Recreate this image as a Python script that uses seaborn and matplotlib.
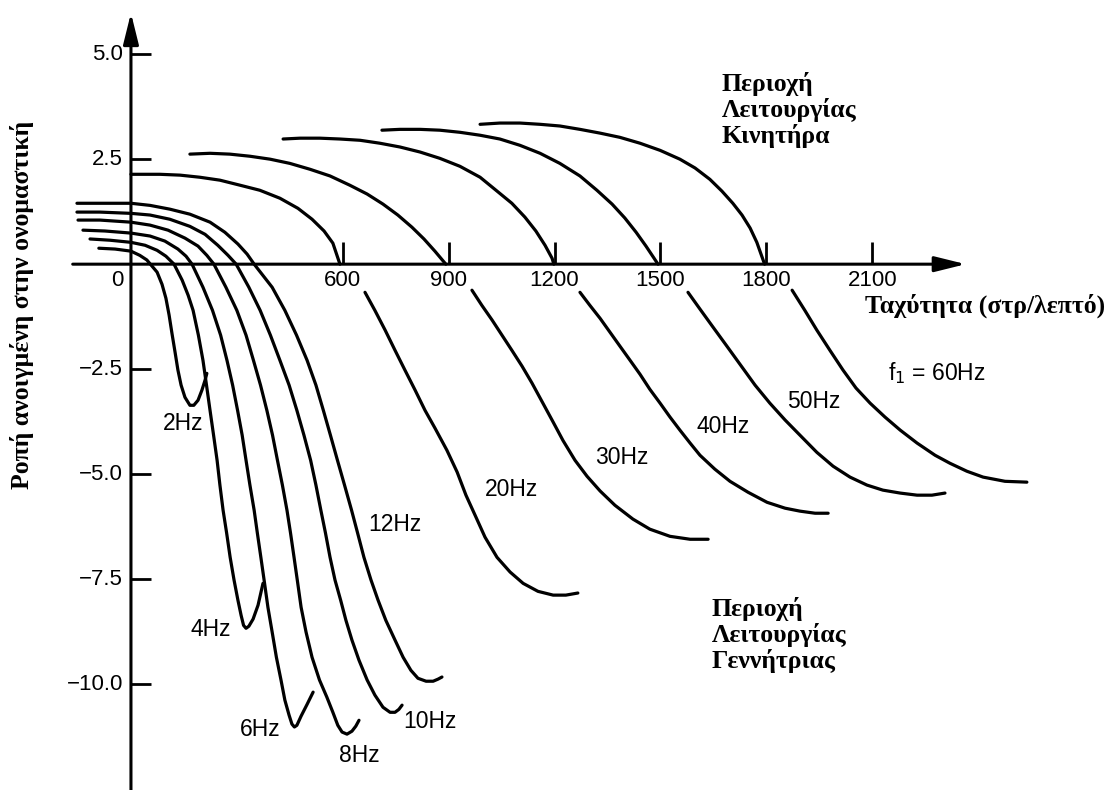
import numpy as np
import pandas as pd
import matplotlib
matplotlib.use("Agg")
import matplotlib.pyplot as plt
import seaborn as sns

# --- data: speed in rpm, torque in per-unit ---

# low frequencies: one continuous curve through zero torque
hz2_rpm = [-91, -45, 0, 25, 45, 57, 74, 88, 99, 108, 116, 125, 133, 142, 153, 167, 178, 190, 201, 210, 215]
hz2_torque = [0.38, 0.36, 0.31, 0.21, 0.10, -0.02, -0.19, -0.48, -0.81, -1.21, -1.64, -2.10, -2.52, -2.88,
              -3.17, -3.36, -3.36, -3.24, -3.00, -2.76, -2.60]

hz4_rpm = [-116, -59, 0, 40, 74, 99, 122, 145, 162, 176, 191, 204, 214, 224, 234, 244, 252, 261, 271, 281,
           292, 303, 312, 319, 326, 334, 346, 360, 374]
hz4_torque = [0.60, 0.57, 0.52, 0.45, 0.33, 0.19, 0.0, -0.38, -0.74, -1.10, -1.69, -2.29, -2.88, -3.48, -4.07,
              -4.67, -5.26, -5.86, -6.40, -6.98, -7.52, -8.00, -8.36, -8.60, -8.67, -8.62, -8.45, -8.12, -7.60]

hz6_rpm = [-136, -74, 0, 54, 96, 133, 156, 173, 204, 231, 254, 272, 288, 302, 315, 326, 337, 349, 358, 368,
           378, 388, 400, 412, 425, 436, 448, 456, 463, 470, 482, 499, 516]
hz6_torque = [0.81, 0.79, 0.74, 0.67, 0.55, 0.36, 0.19, 0.0, -0.55, -1.10, -1.69, -2.29, -2.88, -3.48, -4.07,
              -4.67, -5.26, -5.86, -6.40, -6.98, -7.57, -8.17, -8.76, -9.36, -9.90, -10.38, -10.74, -10.95,
              -11.02, -10.98, -10.76, -10.48, -10.19]

hz8_rpm = [-150, -88, 0, 54, 105, 153, 190, 215, 235, 269, 300, 326, 347, 367, 385, 401, 415, 429, 442, 452,
           462, 472, 482, 496, 513, 534, 555, 572, 586, 598, 612, 626, 637, 646]
hz8_torque = [1.05, 1.05, 1.00, 0.93, 0.81, 0.62, 0.43, 0.21, 0.0, -0.55, -1.10, -1.69, -2.29, -2.88, -3.48,
              -4.07, -4.67, -5.26, -5.86, -6.40, -6.98, -7.57, -8.17, -8.76, -9.36, -9.90, -10.31, -10.67,
              -10.98, -11.14, -11.19, -11.12, -11.00, -10.86]

hz10_rpm = [-153, -88, 0, 54, 110, 167, 210, 246, 275, 298, 334, 366, 395, 422, 448, 470, 490, 509, 524, 538,
            551, 564, 578, 594, 609, 626, 646, 669, 691, 714, 734, 748, 759, 768]
hz10_torque = [1.24, 1.24, 1.21, 1.17, 1.07, 0.90, 0.71, 0.45, 0.21, 0.0, -0.55, -1.10, -1.69, -2.29, -2.88,
               -3.48, -4.07, -4.67, -5.26, -5.86, -6.40, -6.98, -7.52, -8.00, -8.48, -8.95, -9.43, -9.90,
               -10.26, -10.55, -10.67, -10.67, -10.60, -10.50]

hz12_rpm = [-153, -88, 0, 54, 110, 167, 224, 266, 303, 329, 349, 400, 436, 469, 499, 524, 545, 565, 585, 605,
            625, 642, 660, 680, 700, 722, 748, 771, 793, 813, 836, 856, 870, 881]
hz12_torque = [1.45, 1.45, 1.45, 1.40, 1.31, 1.19, 1.00, 0.76, 0.48, 0.24, 0.0, -0.55, -1.10, -1.69, -2.29,
               -2.88, -3.48, -4.07, -4.67, -5.26, -5.86, -6.40, -6.98, -7.52, -8.00, -8.48, -8.95, -9.36,
               -9.67, -9.86, -9.93, -9.93, -9.88, -9.83]

# higher frequencies: motoring part (above axis)
hz20_mot_rpm = [0, 82, 139, 195, 252, 309, 365, 422, 473, 513, 547, 572, 592]
hz20_mot_torque = [2.14, 2.14, 2.12, 2.07, 2.00, 1.88, 1.76, 1.57, 1.33, 1.07, 0.79, 0.50, 0.0]
hz30_mot_rpm = [167, 224, 280, 337, 394, 450, 507, 564, 620, 669, 714, 756, 796, 830, 861, 887, 892]
hz30_mot_torque = [2.62, 2.64, 2.62, 2.57, 2.50, 2.40, 2.26, 2.10, 1.88, 1.67, 1.43, 1.17, 0.88, 0.60, 0.31,
                   0.05, 0.0]
hz40_mot_rpm = [431, 479, 535, 592, 649, 705, 762, 819, 875, 932, 989, 1037, 1079, 1116, 1147, 1173, 1193, 1198]
hz40_mot_torque = [2.98, 3.00, 3.00, 2.98, 2.95, 2.88, 2.79, 2.67, 2.52, 2.33, 2.07, 1.74, 1.45, 1.12, 0.79,
                   0.45, 0.14, 0.0]
hz50_mot_rpm = [711, 762, 819, 875, 932, 989, 1045, 1102, 1159, 1215, 1272, 1320, 1363, 1399, 1431, 1459,
                1482, 1493]
hz50_mot_torque = [3.19, 3.21, 3.21, 3.19, 3.14, 3.07, 2.98, 2.83, 2.64, 2.40, 2.10, 1.76, 1.43, 1.10, 0.76,
                   0.43, 0.14, 0.0]
hz60_mot_rpm = [989, 1045, 1102, 1159, 1215, 1272, 1329, 1385, 1442, 1499, 1555, 1598, 1640, 1674, 1705, 1731,
                1754, 1773, 1795]
hz60_mot_torque = [3.33, 3.36, 3.36, 3.33, 3.29, 3.21, 3.12, 3.02, 2.88, 2.71, 2.50, 2.29, 2.02, 1.74, 1.45,
                   1.17, 0.86, 0.52, 0.0]

# higher frequencies: generating part (below axis)
hz20_gen_rpm = [663, 691, 720, 748, 776, 805, 833, 861, 895, 924, 949, 975, 1003, 1037, 1074, 1111, 1153,
                1196, 1232, 1266]
hz20_gen_torque = [-0.67, -1.10, -1.57, -2.05, -2.52, -3.00, -3.48, -3.90, -4.43, -4.95, -5.50, -5.98, -6.50,
                   -6.98, -7.33, -7.60, -7.79, -7.88, -7.88, -7.83]
hz30_gen_rpm = [966, 994, 1023, 1051, 1079, 1108, 1136, 1167, 1196, 1224, 1258, 1292, 1329, 1371, 1422, 1470,
                1527, 1584, 1635]
hz30_gen_torque = [-0.62, -0.98, -1.33, -1.69, -2.05, -2.43, -2.83, -3.31, -3.76, -4.20, -4.67, -5.05, -5.40,
                   -5.74, -6.07, -6.31, -6.48, -6.55, -6.55]
hz40_gen_rpm = [1272, 1300, 1329, 1357, 1385, 1414, 1442, 1470, 1499, 1527, 1555, 1584, 1612, 1654, 1697, 1748,
                1802, 1853, 1895, 1938, 1975]
hz40_gen_torque = [-0.67, -0.98, -1.29, -1.62, -1.95, -2.29, -2.62, -2.98, -3.31, -3.64, -3.95, -4.26, -4.55,
                   -4.88, -5.17, -5.43, -5.67, -5.81, -5.88, -5.93, -5.93]
hz50_gen_rpm = [1578, 1612, 1649, 1688, 1725, 1768, 1810, 1853, 1895, 1943, 1989, 2037, 2085, 2130, 2179, 2227,
                2269, 2306]
hz50_gen_torque = [-0.67, -1.07, -1.50, -1.95, -2.38, -2.88, -3.31, -3.71, -4.07, -4.48, -4.81, -5.07, -5.26,
                   -5.38, -5.45, -5.50, -5.50, -5.45]
hz60_gen_rpm = [1873, 1909, 1943, 1980, 2017, 2054, 2094, 2136, 2179, 2227, 2278, 2320, 2368, 2414, 2476, 2538]
hz60_gen_torque = [-0.62, -1.10, -1.57, -2.05, -2.52, -2.95, -3.31, -3.64, -3.95, -4.26, -4.55, -4.74, -4.93,
                   -5.07, -5.17, -5.19]

x_ticks = [600, 900, 1200, 1500, 1800, 2100]
y_ticks = [5.0, 2.5, -2.5, -5.0, -7.5, -10.0]
y_tick_labels = ["5.0", "2.5", "\u22122.5", "\u22125.0", "\u22127.5", "\u221210.0"]

curve_labels = ["2Hz", "4Hz", "6Hz", "8Hz", "10Hz", "12Hz",
                "20Hz", "30Hz", "40Hz", "50Hz", "f$_1$ = 60Hz"]
curve_label_rpm = [147, 227, 365, 646, 847, 748, 1079, 1391, 1677, 1935, 2283]
curve_label_torque = [-3.79, -8.71, -11.07, -11.69, -10.90, -6.21, -5.36, -4.60, -3.86, -3.26, -2.60]

segments = [
    ("2Hz", hz2_rpm, hz2_torque), ("4Hz", hz4_rpm, hz4_torque),
    ("6Hz", hz6_rpm, hz6_torque), ("8Hz", hz8_rpm, hz8_torque),
    ("10Hz", hz10_rpm, hz10_torque), ("12Hz", hz12_rpm, hz12_torque),
    ("20Hz m", hz20_mot_rpm, hz20_mot_torque), ("30Hz m", hz30_mot_rpm, hz30_mot_torque),
    ("40Hz m", hz40_mot_rpm, hz40_mot_torque), ("50Hz m", hz50_mot_rpm, hz50_mot_torque),
    ("60Hz m", hz60_mot_rpm, hz60_mot_torque),
    ("20Hz g", hz20_gen_rpm, hz20_gen_torque), ("30Hz g", hz30_gen_rpm, hz30_gen_torque),
    ("40Hz g", hz40_gen_rpm, hz40_gen_torque), ("50Hz g", hz50_gen_rpm, hz50_gen_torque),
    ("60Hz g", hz60_gen_rpm, hz60_gen_torque),
]

rows = []
for name, xs, ys in segments:
    for i, (x, y) in enumerate(zip(xs, ys)):
        rows.append({"segment": name, "order": i, "rpm": x, "torque": y})
df = pd.DataFrame(rows)

sns.set_theme(style="white")
plt.rcParams["font.family"] = ["Liberation Sans", "DejaVu Sans"]

fig = plt.figure(figsize=(11.13, 7.90), dpi=100)
ax = fig.add_axes([0, 0, 1, 1])

sns.lineplot(data=df, x="rpm", y="torque", units="segment", estimator=None,
             sort=False, color="black", lw=2.3, ax=ax,
             solid_joinstyle="round", solid_capstyle="round")

ax.set_xlim(-371, 2782)
ax.set_ylim(-12.52, 6.29)
ax.axis("off")

# axes with arrow heads
arrow = dict(arrowstyle="-|>,head_length=1.05,head_width=0.26", color="black",
             lw=2.2, mutation_scale=18, shrinkA=0, shrinkB=0)
ax.annotate("", xy=(2365, 0), xytext=(-165, 0), arrowprops=arrow)
ax.annotate("", xy=(0, 5.98), xytext=(0, -12.8), arrowprops=arrow)

# tick marks
ax.vlines(x_ticks, 0, 0.52, color="black", lw=2)
ax.hlines(y_ticks, 0, 57, color="black", lw=2)

num_font = dict(family=["Liberation Sans", "DejaVu Sans"], fontsize=16, color="black")
for xt in x_ticks:
    ax.text(xt, -0.38, str(xt), ha="center", va="center", **num_font)
for yt, lab in zip(y_ticks, y_tick_labels):
    ax.text(-22, yt, lab, ha="right", va="center", **num_font)
ax.text(-40, -0.38, "0", ha="center", va="center", **num_font)

hz_font = dict(family=["Liberation Sans", "DejaVu Sans"], fontsize=16.5, color="black")
for lab, xr, yr in zip(curve_labels, curve_label_rpm, curve_label_torque):
    ax.text(xr, yr, lab, ha="center", va="center", **hz_font)

serif = dict(family=["Liberation Serif", "DejaVu Serif"], fontsize=18.5,
             fontweight="bold", color="black")
ax.text(2079, -0.98, "Ταχύτητα (στρ/λεπτό)", ha="left", va="center", **serif)
ax.text(-309, -0.98, "Ροπή ανοιγμένη στην ονομαστική", ha="center", va="center",
        rotation=90, **serif)
ax.text(1674, 4.57, "Περιοχή\nΛειτουργίας\nΚινητήρα", ha="left", va="top",
        linespacing=1.1, **serif)
ax.text(1646, -7.93, "Περιοχή\nΛειτουργίας\nΓεννήτριας", ha="left", va="top",
        linespacing=1.1, **serif)

fig.savefig("out.png", dpi=100, facecolor="white")
